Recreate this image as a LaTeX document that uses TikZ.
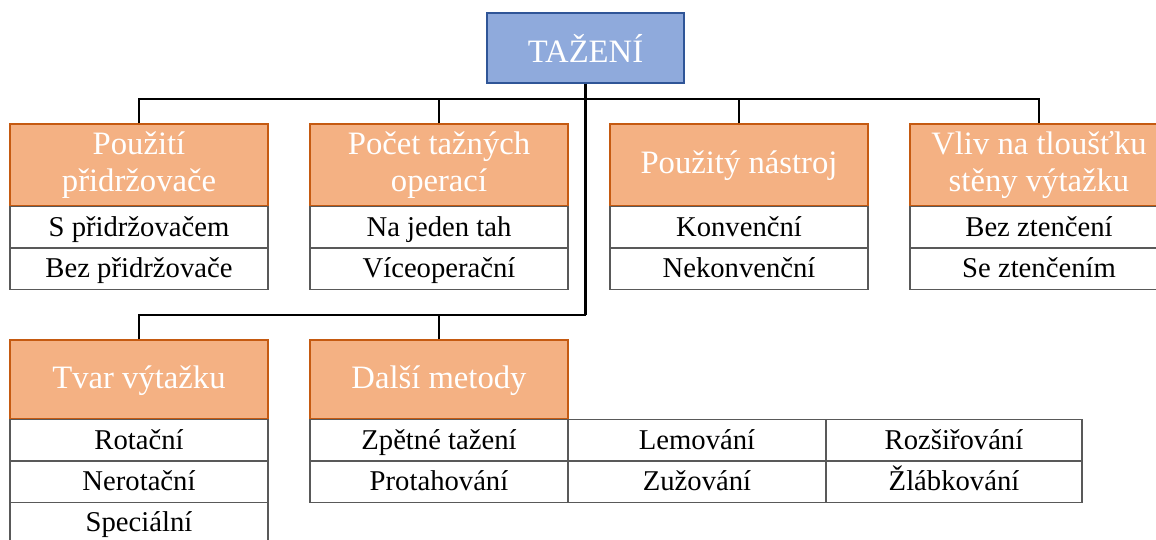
\documentclass[tikz,border=0pt]{standalone}
\usepackage{fontspec}
\setmainfont{Liberation Serif}
\usepackage{xcolor}
\definecolor{myblue}{HTML}{8FAADC}
\definecolor{myblueline}{HTML}{2F5597}
\definecolor{myorange}{HTML}{F4B183}
\definecolor{myorangeline}{HTML}{C55A11}
\begin{document}
\begin{tikzpicture}
  [x=0.75pt, y=-0.75pt,
   root/.style={rectangle, draw=myblueline, fill=myblue, line width=1pt,
     minimum width=147.75pt, minimum height=52.5pt, text=white,
     font=\fontsize{24.5}{28}\selectfont},
   head/.style={rectangle, draw=myorangeline, fill=myorange, line width=1pt,
     minimum width=193.5pt, minimum height=61.5pt, text=white, align=center,
     inner sep=1pt, font=\fontsize{24.5}{28}\selectfont},
   cell/.style={rectangle, draw=black!65, fill=white, line width=0.8pt,
     minimum width=193.5pt, minimum height=31pt, inner sep=0pt, outer sep=0pt,
     text height=16pt, text depth=3pt,
     font=\fontsize{21.5}{24}\selectfont},
   link/.style={draw=black, line width=1.9pt},
  ]
  \useasboundingbox (0,0) rectangle (1156,539);

  \node[root] (root) at (585.5,48) {TAŽENÍ};

  \coordinate (busA) at (585.5,99);
  \coordinate (busB) at (585.5,315);

  % first row
  \node[head] (h1) at (139,165) {Použití\\přidržovače};
  \node[head] (h2) at (439,165) {Počet tažných\\operací};
  \node[head, text depth=4pt] (h3) at (739,165) {Použitý nástroj};
  \node[head] (h4) at (1039,165) {Vliv na tloušťku\\stěny výtažku};

  \node[cell, anchor=north] (h1a) at (h1.south) {S přidržovačem};
  \node[cell, anchor=north] (h1b) at (h1a.south) {Bez přidržovače};
  \node[cell, anchor=north] (h2a) at (h2.south) {Na jeden tah};
  \node[cell, anchor=north] (h2b) at (h2a.south) {Víceoperační};
  \node[cell, anchor=north] (h3a) at (h3.south) {Konvenční};
  \node[cell, anchor=north] (h3b) at (h3a.south) {Nekonvenční};
  \node[cell, anchor=north] (h4a) at (h4.south) {Bez ztenčení};
  \node[cell, anchor=north] (h4b) at (h4a.south) {Se ztenčením};

  % second row
  \node[head, minimum height=59.25pt, text depth=4pt] (t1) at (139,379.5) {Tvar výtažku};
  \node[head, minimum height=59.25pt, text depth=4pt] (t2) at (439,379.5) {Další metody};

  \node[cell, anchor=north] (t1a) at (t1.south) {Rotační};
  \node[cell, anchor=north] (t1b) at (t1a.south) {Nerotační};
  \node[cell, anchor=north] (t1c) at (t1b.south) {Speciální};

  \node[cell, anchor=north] (t2a) at (t2.south) {Zpětné tažení};
  \node[cell, anchor=north] (t2b) at (t2a.south) {Protahování};
  \node[cell, anchor=north west] (t2c) at (t2a.north east) {Lemování};
  \node[cell, anchor=north] (t2d) at (t2c.south) {Zužování};
  \node[cell, anchor=north west, minimum width=192pt] (t2e) at (t2c.north east) {Rozšiřování};
  \node[cell, anchor=north, minimum width=192pt] (t2f) at (t2e.south) {Žlábkování};

  \path[link] (root.south) -- (busB)
              (h1.north) |- (busA)
              (h2.north) |- (busA)
              (h3.north) |- (busA)
              (h4.north) |- (busA)
              (t1.north) |- (busB)
              (t2.north) |- (busB);
\end{tikzpicture}
\end{document}
